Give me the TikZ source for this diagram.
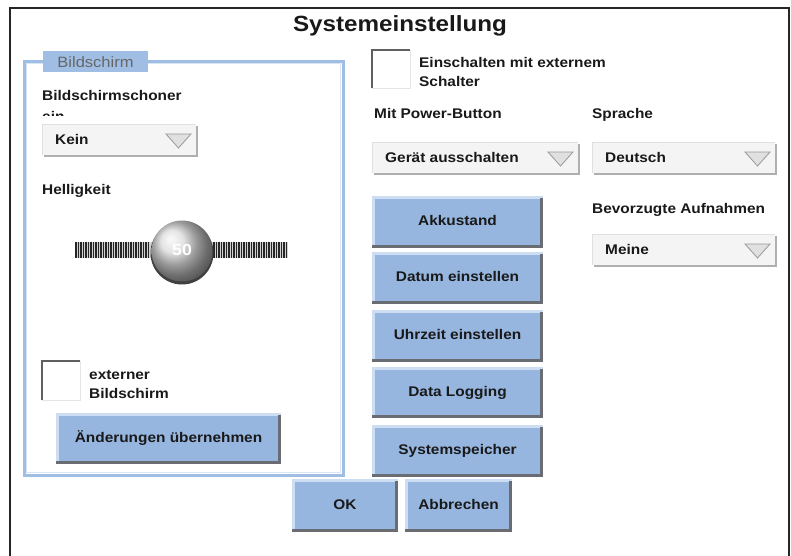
\documentclass[tikz,border=0pt]{standalone}
\usepackage{fontspec}
\setmainfont{Liberation Sans}[FakeStretch=1.1]
\definecolor{btnfill}{RGB}{150,182,224}
\definecolor{btnlight}{RGB}{205,222,242}
\definecolor{btnshadow}{RGB}{105,108,115}
\definecolor{frameblue}{RGB}{160,190,228}
\definecolor{dropfill}{RGB}{244,244,244}
\definecolor{dropshadow}{RGB}{175,175,175}
\definecolor{txt}{RGB}{25,25,25}
\tikzset{
  lbl/.style={anchor=base west, inner sep=0pt, font=\fontsize{14}{16}\selectfont\bfseries, text=txt},
  btntext/.style={inner sep=0pt, text height=10pt, text depth=0pt, font=\fontsize{14}{16}\selectfont\bfseries, text=txt},
}
\newcommand{\uibutton}[6]{%
  \fill[btnfill] (#2,#3) rectangle (#4,#5);
  \fill[btnlight] (#2,#3) rectangle (#4,{#3+3});
  \fill[btnlight] (#2,#3) rectangle ({#2+3},#5);
  \fill[btnshadow] (#2,{#5-3}) rectangle (#4,#5);
  \fill[btnshadow] ({#4-3},{#3+2}) rectangle (#4,#5);
  \node[btntext] (#1) at ({(#2+#4)/2},{(#3+#5)/2-1.5}) {#6};
}
\newcommand{\uidrop}[6]{%
  \fill[dropshadow] ({#2+2},{#3+2}) rectangle (#4,#5);
  \fill[dropfill] (#2,#3) rectangle ({#4-2},{#5-2});
  \draw[white!88!black, line width=0.6] (#2,{#5-2}) -- (#2,#3) -- ({#4-2},#3);
  \node[lbl] (#1) at ({#2+13},{#3+20}) {#6};
  \filldraw[fill=white!88!black, draw=gray!80, line width=0.8] ({#4-32},{#3+10}) -- ({#4-7},{#3+10}) -- ({#4-19.5},{#3+24}) -- cycle;
}
\newcommand{\uicheck}[4]{%
  \draw[gray!20, line width=1] (#3,#2) -- (#3,#4) -- (#1,#4);
  \draw[gray!75!black, line width=1.5] (#1,#4) -- (#1,#2) -- (#3,#2);
}
\begin{document}
\begin{tikzpicture}[x=1pt,y=-1pt]
\useasboundingbox (0,0) rectangle (791,555);
\fill[white] (0,0) rectangle (791,555);
% outer frame
\draw[black!85, line width=2] (10,556) -- (10,8) -- (789,8) -- (789,556);
\node[font=\fontsize{22}{24}\selectfont\bfseries, anchor=base, inner sep=0pt, text=txt] (title) at (400,31) {Systemeinstellung};

% Bildschirm group
\draw[frameblue, line width=3] (24,61) rectangle (343,475);
\draw[white!60!frameblue, line width=0.8] (26.5,63.5) rectangle (340.5,472.5);
\fill[frameblue] (43,51) rectangle (148,72);
\node[inner sep=0pt, font=\fontsize{15}{16}\selectfont, text=black!60, anchor=base] (tab) at (95.5,67) {Bildschirm};

\node[lbl] (schoner) at (42,100) {Bildschirmschoner};
\node[lbl] (ein) at (42,121) {ein};
\fill[white] (40,115.5) rectangle (120,124);
\uidrop{kein}{42}{124}{198}{157}{Kein}
\node[lbl] (hell) at (42,194) {Helligkeit};

% slider
\fill[gray!35] (75,242) rectangle (288,258);
\foreach \x in {76,78.5,...,150} { \draw[black!85, line width=1.4] (\x,242) -- (\x,258); }
\foreach \x in {214,216.5,...,288} { \draw[black!85, line width=1.4] (\x,242) -- (\x,258); }
\fill[black!75] (182,253) circle (31.5);
\shade[ball color=white!72!gray] (182,251) circle (30.5);
\node[inner sep=0pt, font=\fontsize{16}{16}\selectfont\bfseries, text=white] (fifty) at (182,250) {50};

\uicheck{42}{361}{80}{400}
\node[lbl] (ext1) at (89,379) {externer};
\node[lbl] (ext2) at (89,398) {Bildschirm};
\uibutton{apply}{56}{413}{281}{464}{Änderungen übernehmen}

% right side
\uicheck{372}{50}{410}{88}
\node[lbl] (ein1) at (419,67) {Einschalten mit externem};
\node[lbl] (ein2) at (419,86) {Schalter};
\node[lbl] (power) at (374,118) {Mit Power-Button};
\node[lbl] (sprache) at (592,118) {Sprache};
\uidrop{geraet}{372}{142}{580}{175}{Gerät ausschalten}
\uidrop{deutsch}{592}{142}{777}{175}{Deutsch}
\node[lbl] (bevorzugt) at (592,213) {Bevorzugte Aufnahmen};
\uidrop{meine}{592}{234}{777}{267}{Meine}

\uibutton{akku}{372}{196}{543}{248}{Akkustand}
\uibutton{datum}{372}{252}{543}{304}{Datum einstellen}
\uibutton{uhr}{372}{310}{543}{362}{Uhrzeit einstellen}
\uibutton{log}{372}{367}{543}{418}{Data Logging}
\uibutton{speicher}{372}{425}{543}{477}{Systemspeicher}
\uibutton{ok}{292}{479}{398}{532}{OK}
\uibutton{abbr}{405}{479}{512}{532}{Abbrechen}
\end{tikzpicture}
\end{document}
